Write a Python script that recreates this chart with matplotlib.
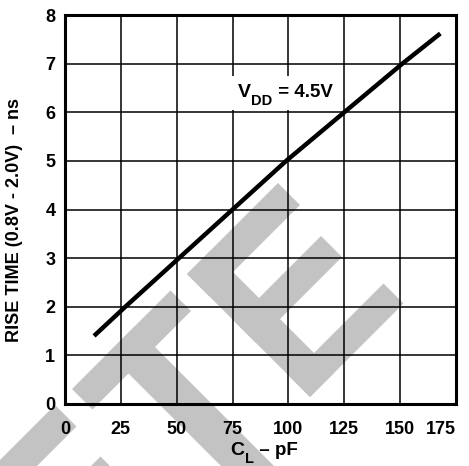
import matplotlib
matplotlib.use("Agg")
import matplotlib.pyplot as plt
from matplotlib.patches import Polygon, Rectangle
from matplotlib.transforms import IdentityTransform

plt.rcParams['font.family'] = ['Liberation Sans', 'DejaVu Sans']

# data
cl_pf = [13, 27, 51, 75, 99, 125, 151, 168]
rise_ns = [1.40, 2.0, 3.0, 4.0, 5.0, 6.0, 7.0, 7.62]
x_ticks = [0, 25, 50, 75, 100, 125, 150, 175]
y_ticks = [0, 1, 2, 3, 4, 5, 6, 7, 8]

W, H = 469, 466
fig = plt.figure(figsize=(W / 100, H / 100), dpi=100)
fig.patch.set_facecolor('white')

# watermark (rotated letters "...E T E"), defined in diagonal coordinates a=x-y, b=x+y (pixels from top-left)
def rect_ab(a0, a1, b0, b1):
    pts = []
    for a, b in [(a0, b0), (a1, b0), (a1, b1), (a0, b1)]:
        x = (a + b) / 2.0
        y = (b - a) / 2.0
        pts.append((x / W, 1 - y / H))
    return pts

wm_color = '#c3c3c3'
wm_rects = [
    (-620, -350, 460, 503), (-620, -356, 557, 599), (-620, -352, 667, 707), (-620, -484, 460, 707),
    (-317, -120, 461, 502), (-245, -192, 461, 1000),
    (-87, 95, 461, 505), (-87, -39, 461, 707), (-87, 85, 557, 599), (-87, 100, 667, 707),
]
for r in wm_rects:
    fig.patches.append(Polygon(rect_ab(*r), closed=True, transform=fig.transFigure,
                               facecolor=wm_color, edgecolor='none', zorder=-1))

ax = fig.add_axes([65 / W, 1 - 404 / H, (456 - 65) / W, (404 - 15) / H])
ax.set_facecolor('none')
ax.set_xlim(0, 175)
ax.set_ylim(0, 8)
ax.set_xticks(x_ticks)
ax.set_yticks(y_ticks)
ax.set_xticklabels([str(v) for v in x_ticks], fontsize=13, fontweight='bold')
ax.set_yticklabels([str(v) for v in y_ticks], fontsize=13, fontweight='bold')
ax.get_xticklabels()[-1].set_horizontalalignment('right')
ax.tick_params(axis='both', length=0)
ax.tick_params(axis='x', pad=12)
ax.tick_params(axis='y', pad=7)
ax.grid(True, color='black', linewidth=1.1)
ax.set_axisbelow(True)
for s in ax.spines.values():
    s.set_linewidth(2.2)
    s.set_color('black')

ax.plot(cl_pf, rise_ns, color='black', linewidth=3.2, solid_capstyle='butt', zorder=3)

ax.set_ylabel('RISE TIME (0.8V - 2.0V)  – ns', fontsize=13, fontweight='bold', labelpad=6)
ax.yaxis.set_label_coords(-0.108, 0.473)

fig.canvas.draw()
renderer = fig.canvas.get_renderer()

def draw_parts(x_left, baseline_from_top, parts):
    x = x_left
    ybase = H - baseline_from_top
    for s, size, drop in parts:
        t = fig.text(x, ybase - drop, s, fontsize=size, fontweight='bold',
                     ha='left', va='baseline', transform=IdentityTransform(), zorder=5)
        bb = t.get_window_extent(renderer)
        x = bb.x1 + 0.5

# white box behind the V_DD label
fig.patches.append(Rectangle((232, H - 110), 107, 34, transform=IdentityTransform(),
                             facecolor='white', edgecolor='none', zorder=2))
draw_parts(238, 97.3, [('V', 14, 0), ('DD', 10.5, 7.7), (' = 4.5V', 13.5, 0)])
draw_parts(230, 455, [('C', 14, 0), ('L', 10.5, 8), (' – pF', 13.5, 0)])

fig.savefig('out.png', dpi=100, facecolor='white')
